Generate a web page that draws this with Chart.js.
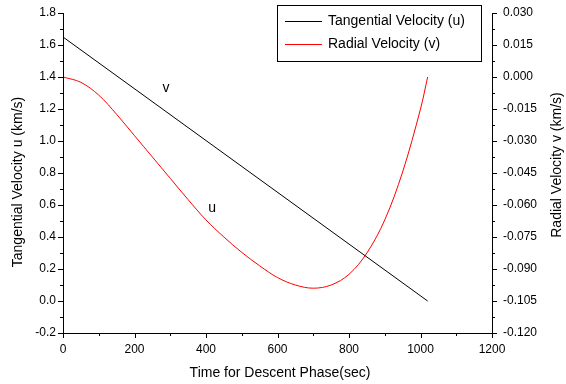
<!DOCTYPE html>
<html>
<head>
<meta charset="utf-8">
<script src="https://cdn.jsdelivr.net/npm/chart.js@4"></script>
<style>
  html, body { margin: 0; padding: 0; background: #fff; }
  #wrap { width: 566px; height: 384px; }
</style>
</head>
<body>
<div id="wrap"><canvas id="chart"></canvas></div>
<script>
// dados
const tempoU = [0, 1020];
const velTangencial = [1.65, 0.0];

const tempoV = [0, 50, 100, 150, 200, 250, 300, 350, 400, 450, 500, 550, 600, 650, 700, 750, 800, 850, 900, 950, 1000, 1020];
const velRadial = [0.0000, -0.0025, -0.0085, -0.0175, -0.0275, -0.0375, -0.0475, -0.0575, -0.0670, -0.0750, -0.0822, -0.0885, -0.0940, -0.0975, -0.0990, -0.0975, -0.0925, -0.0825, -0.0670, -0.0445, -0.0150, 0.0000];

const ticksX = [0, 200, 400, 600, 800, 1000, 1200];
const ticksU = [-0.2, 0.0, 0.2, 0.4, 0.6, 0.8, 1.0, 1.2, 1.4, 1.6, 1.8];
const ticksV = [-0.120, -0.105, -0.090, -0.075, -0.060, -0.045, -0.030, -0.015, 0.000, 0.015, 0.030];

const rotulos = [
  { text: "v", x: 288, y: 1.33 },
  { text: "u", x: 417, y: 0.58 }
];

const fonte = '"Liberation Sans", Arial, sans-serif';

function pares(xs, ys) {
  return xs.map((x, i) => ({ x: x, y: ys[i] }));
}

// tamanho fixo dos eixos, sem folga extra dos rótulos
function fixar(s, w, h) {
  if (w) s.width = w;
  if (h) s.height = h;
  s.paddingTop = 0;
  s.paddingBottom = 0;
  s.paddingLeft = 0;
  s.paddingRight = 0;
}

// eixos, ticks menores, títulos, legenda e rótulos
const extras = {
  id: "extras",
  afterDraw(chart) {
    const ctx = chart.ctx;
    const a = chart.chartArea;
    const sx = chart.scales.x;
    const su = chart.scales.y;
    const sv = chart.scales.y1;

    ctx.save();
    ctx.strokeStyle = "#000";
    ctx.lineWidth = 1;

    // linhas dos eixos
    ctx.beginPath();
    ctx.moveTo(Math.round(a.left) + 0.5, a.top);
    ctx.lineTo(Math.round(a.left) + 0.5, Math.round(a.bottom) + 0.5);
    ctx.lineTo(Math.round(a.right) + 0.5, Math.round(a.bottom) + 0.5);
    ctx.lineTo(Math.round(a.right) + 0.5, a.top);
    ctx.stroke();

    ctx.beginPath();
    // eixo x
    for (let v = 0; v <= 1200; v += 100) {
      const px = Math.round(sx.getPixelForValue(v)) + 0.5;
      const len = v % 200 === 0 ? 5 : 3;
      ctx.moveTo(px, a.bottom);
      ctx.lineTo(px, a.bottom + len);
    }
    // eixo esquerdo
    for (let i = 0; i <= 20; i++) {
      const py = Math.round(su.getPixelForValue(-0.2 + i * 0.1)) + 0.5;
      const len = i % 2 === 0 ? 5 : 3;
      ctx.moveTo(a.left, py);
      ctx.lineTo(a.left - len, py);
    }
    // eixo direito
    for (let i = 0; i <= 20; i++) {
      const py = Math.round(sv.getPixelForValue(-0.12 + i * 0.0075)) + 0.5;
      const len = i % 2 === 0 ? 5 : 3;
      ctx.moveTo(a.right, py);
      ctx.lineTo(a.right + len, py);
    }
    ctx.stroke();

    // títulos dos eixos
    ctx.fillStyle = "#000";
    ctx.font = "14px " + fonte;
    ctx.textAlign = "center";
    ctx.textBaseline = "middle";
    ctx.fillText("Time for Descent Phase(sec)", 280, 373);

    ctx.save();
    ctx.translate(18, 182);
    ctx.rotate(-Math.PI / 2);
    ctx.fillText("Tangential Velocity u (km/s)", 0, 0);
    ctx.restore();

    ctx.save();
    ctx.translate(557, 165);
    ctx.rotate(-Math.PI / 2);
    ctx.fillText("Radial Velocity v (km/s)", 0, 0);
    ctx.restore();

    // rótulos u / v no gráfico
    rotulos.forEach(r => {
      ctx.fillText(r.text, sx.getPixelForValue(r.x), su.getPixelForValue(r.y));
    });

    // legenda
    ctx.fillStyle = "#fff";
    ctx.fillRect(277.5, 5.5, 204, 56);
    ctx.strokeRect(277.5, 5.5, 204, 56);
    ctx.textAlign = "left";
    chart.data.datasets.forEach((ds, i) => {
      const y = 21.5 + i * 23;
      ctx.strokeStyle = ds.borderColor;
      ctx.beginPath();
      ctx.moveTo(285, y);
      ctx.lineTo(322, y);
      ctx.stroke();
      ctx.fillStyle = "#000";
      ctx.fillText(ds.label, 328, y);
    });

    ctx.restore();
  }
};

const ctx = document.getElementById("chart").getContext("2d");
new Chart(ctx, {
  type: "line",
  data: {
    datasets: [
      {
        label: "Tangential Velocity (u)",
        data: pares(tempoU, velTangencial),
        borderColor: "#000000",
        borderWidth: 1,
        pointRadius: 0,
        yAxisID: "y"
      },
      {
        label: "Radial Velocity (v)",
        data: pares(tempoV, velRadial),
        borderColor: "#ff0000",
        borderWidth: 1,
        pointRadius: 0,
        tension: 0.35,
        yAxisID: "y1"
      }
    ]
  },
  options: {
    responsive: true,
    maintainAspectRatio: false,
    animation: false,
    layout: { padding: { top: 13, left: 0, right: 0, bottom: 0 } },
    plugins: {
      legend: { display: false },
      tooltip: { enabled: false }
    },
    scales: {
      x: {
        type: "linear",
        min: 0,
        max: 1200,
        afterBuildTicks: s => { s.ticks = ticksX.map(v => ({ value: v })); },
        afterFit: s => fixar(s, 0, 51),
        grid: { display: false, drawTicks: false },
        border: { display: false },
        ticks: {
          padding: 9,
          color: "#000",
          font: { family: fonte, size: 12 },
          maxRotation: 0,
          callback: v => String(v)
        }
      },
      y: {
        type: "linear",
        position: "left",
        min: -0.2,
        max: 1.8,
        afterBuildTicks: s => { s.ticks = ticksU.map(v => ({ value: v })); },
        afterFit: s => fixar(s, 63, 0),
        grid: { display: false, drawTicks: false },
        border: { display: false },
        ticks: {
          padding: 7,
          color: "#000",
          font: { family: fonte, size: 12 },
          callback: v => Number(v).toFixed(1)
        }
      },
      y1: {
        type: "linear",
        position: "right",
        min: -0.12,
        max: 0.03,
        afterBuildTicks: s => { s.ticks = ticksV.map(v => ({ value: v })); },
        afterFit: s => fixar(s, 74, 0),
        grid: { display: false, drawTicks: false },
        border: { display: false },
        ticks: {
          padding: 11,
          color: "#000",
          font: { family: fonte, size: 12 },
          callback: v => Number(v).toFixed(3)
        }
      }
    }
  },
  plugins: [extras]
});
</script>
</body>
</html>
